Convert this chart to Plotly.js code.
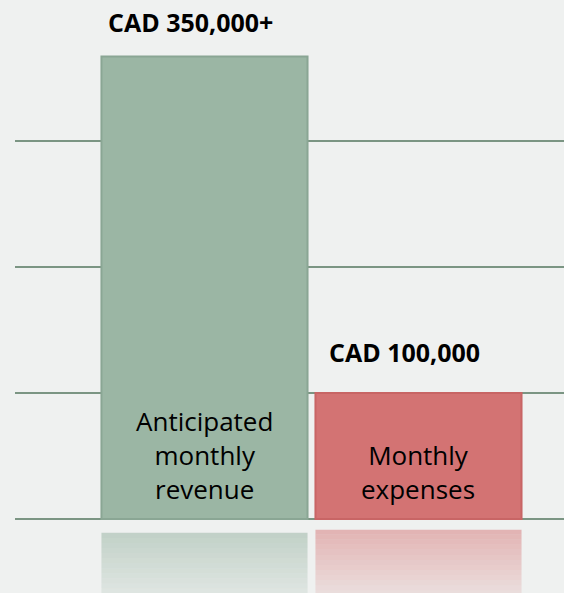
<!DOCTYPE html>
<html>
<head>
<meta charset="utf-8">
<script src="https://cdn.plot.ly/plotly-3.0.1.min.js"></script>
<style>
html,body{margin:0;padding:0;background:#eff1f0;}
#chart{width:564px;height:593px;}
</style>
</head>
<body>
<div id="chart"></div>
<script>
// Data
const categories = ["Anticipated<br>monthly<br>revenue", "Monthly<br>expenses"];
const values = [367000, 100000];
const valueLabels = ["CAD 350,000+", "CAD 100,000"];
const gridTicks = [0, 100000, 200000, 300000];

// Styles
const barColors = ["#9bb6a4", "#d37373"];
const edgeColors = ["#8aa694", "#c86565"];
const reflectRGB = [[150, 178, 160], [214, 120, 120]];
const reflectGap = [11000, 8500];
const xPos = categories.map((c, i) => i);
const barWidth = 0.963;

const traces = [];
// Reflections (decorative, fading segments below the baseline)
const nSeg = 16, segH = 4000;
for (let k = 0; k < nSeg; k++) {
  const a = 0.5 * (1 - k / (nSeg * 1.1));
  traces.push({
    type: "bar",
    x: xPos,
    base: xPos.map(i => -(reflectGap[i] + k * segH)),
    y: xPos.map(() => -segH),
    width: barWidth,
    marker: {
      color: xPos.map(i => `rgba(${reflectRGB[i].join(",")},${a.toFixed(3)})`),
      line: {width: 0}
    },
    hoverinfo: "skip",
    showlegend: false
  });
}
// Main bars
traces.push({
  type: "bar",
  x: xPos,
  y: values,
  width: barWidth,
  marker: {color: barColors, line: {color: edgeColors, width: 2}},
  hoverinfo: "skip",
  showlegend: false
});

const annotations = [];
categories.forEach((c, i) => {
  annotations.push({
    x: xPos[i], y: values[i], xref: "x", yref: "y",
    text: "<b>" + valueLabels[i] + "</b>",
    showarrow: false, xanchor: "center", yanchor: "bottom",
    xshift: -14, yshift: i === 0 ? 16 : 22,
    font: {family: "Open Sans", size: 25, color: "#000"}
  });
  annotations.push({
    x: xPos[i], y: 0, xref: "x", yref: "y",
    text: c,
    showarrow: false, xanchor: "center", yanchor: "bottom",
    yshift: 10,
    font: {family: "Open Sans", size: 26, color: "#000"}
  });
});

const layout = {
  width: 564, height: 593,
  margin: {l: 15, r: 0, t: 0, b: 0},
  paper_bgcolor: "#eff1f0",
  plot_bgcolor: "#eff1f0",
  barmode: "overlay",
  xaxis: {range: [-0.8855, 1.68], showgrid: false, zeroline: false, showticklabels: false, fixedrange: true},
  yaxis: {range: [-58730, 411905], tickmode: "array", tickvals: gridTicks, showticklabels: false,
          showgrid: true, gridcolor: "#7b9583", gridwidth: 2, zeroline: false, fixedrange: true},
  annotations: annotations,
  showlegend: false
};

Plotly.newPlot("chart", traces, layout, {displayModeBar: false, staticPlot: true});
</script>
</body>
</html>
